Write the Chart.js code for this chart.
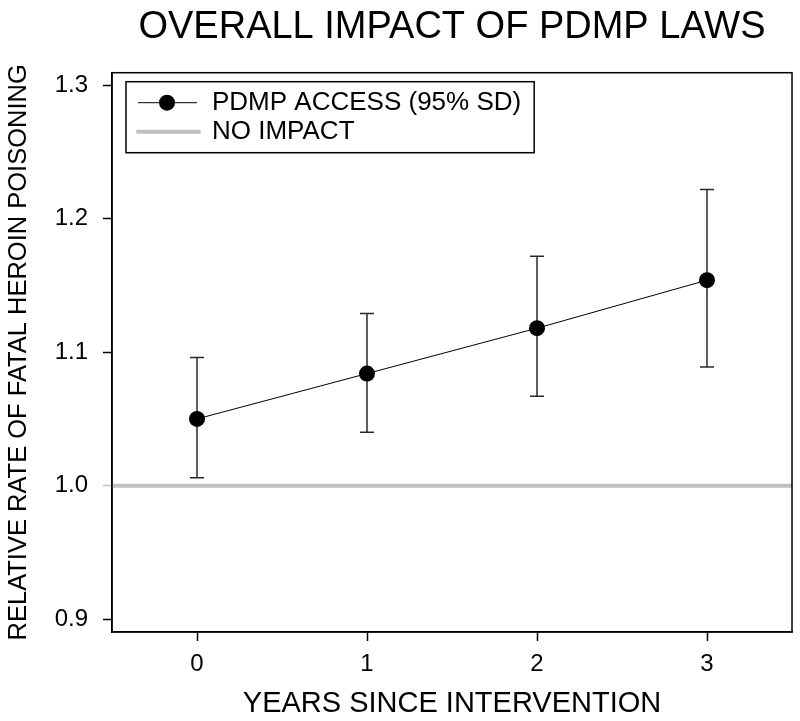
<!DOCTYPE html>
<html><head><meta charset="utf-8">
<script src="https://cdn.jsdelivr.net/npm/chart.js@4.4.1/dist/chart.umd.min.js"></script>
<style>html,body{margin:0;padding:0;background:#fff;} canvas{display:block;}</style>
</head><body>
<canvas id="c" width="800" height="721"></canvas>
<script>
const years = [0, 1, 2, 3];
const estimate = [1.050, 1.084, 1.118, 1.154];
const upperCI = [1.096, 1.129, 1.172, 1.222];
const lowerCI = [1.006, 1.040, 1.067, 1.089];
const noImpact = 1.0;
const yTicks = [0.9, 1.0, 1.1, 1.2, 1.3];
const xTicks = [0, 1, 2, 3];
const xRange = [-0.5, 3.5];
const yRange = [0.8903, 1.3095];
const chartTitle = 'OVERALL IMPACT OF PDMP LAWS';
const xTitle = 'YEARS SINCE INTERVENTION';
const yTitle = 'RELATIVE RATE OF FATAL HEROIN POISONING';
const seriesLabels = ['PDMP ACCESS (95% SD)', 'NO IMPACT'];

const FONT = "'Liberation Sans', Arial, sans-serif";

const frame = {
  id: 'frame',
  afterDraw(chart) {
    const {ctx, chartArea: a} = chart;
    ctx.save();
    ctx.strokeStyle = '#000';
    ctx.lineWidth = 1.5;
    ctx.strokeRect(a.left, a.top, a.right - a.left, a.bottom - a.top);
    ctx.restore();
  }
};

const errorBars = {
  id: 'errorBars',
  beforeDatasetsDraw(chart) {
    const {ctx, scales: {x, y}} = chart;
    ctx.save();
    ctx.strokeStyle = '#2a2a2a';
    ctx.lineWidth = 1.5;
    years.forEach((yr, i) => {
      const px = x.getPixelForValue(yr);
      const pt = y.getPixelForValue(upperCI[i]);
      const pb = y.getPixelForValue(lowerCI[i]);
      ctx.beginPath();
      ctx.moveTo(px, pt); ctx.lineTo(px, pb);
      ctx.moveTo(px - 7, pt); ctx.lineTo(px + 7, pt);
      ctx.moveTo(px - 7, pb); ctx.lineTo(px + 7, pb);
      ctx.stroke();
    });
    ctx.restore();
  }
};

const boxLegend = {
  id: 'boxLegend',
  afterDraw(chart) {
    const {ctx, chartArea: a} = chart;
    const ds = chart.data.datasets;
    const left = a.left + 14, top = a.top + 9, h = 71;
    ctx.save();
    ctx.font = '26px ' + FONT;
    const textX = left + 86;
    const w = Math.max(...ds.map(d => ctx.measureText(d.label).width));
    const right = textX + w + 13;
    ctx.fillStyle = '#fff';
    ctx.fillRect(left, top, right - left, h);
    ctx.strokeStyle = '#000';
    ctx.lineWidth = 1.5;
    ctx.strokeRect(left, top, right - left, h);
    const r1 = top + 21, r2 = top + 50;
    ctx.beginPath();
    ctx.strokeStyle = '#000'; ctx.lineWidth = 1;
    ctx.moveTo(left + 12, r1); ctx.lineTo(left + 71, r1); ctx.stroke();
    ctx.beginPath();
    ctx.fillStyle = '#000';
    ctx.arc(left + 41, r1, 8, 0, Math.PI * 2); ctx.fill();
    ctx.beginPath();
    ctx.strokeStyle = '#c0c0c0'; ctx.lineWidth = 4; ctx.lineCap = 'round';
    ctx.moveTo(left + 12, r2); ctx.lineTo(left + 73, r2); ctx.stroke();
    ctx.fillStyle = '#000';
    ctx.textBaseline = 'middle';
    ctx.textAlign = 'left';
    ctx.fillText(ds[0].label, textX, r1);
    ctx.fillText(ds[1].label, textX, r2);
    ctx.restore();
  }
};

new Chart(document.getElementById('c'), {
  type: 'scatter',
  data: {
    datasets: [
      {
        label: seriesLabels[0],
        data: years.map((x, i) => ({x, y: estimate[i]})),
        showLine: true,
        borderColor: '#000',
        borderWidth: 1,
        pointRadius: 8,
        pointHoverRadius: 8,
        pointBackgroundColor: '#000',
        pointBorderWidth: 0
      },
      {
        label: seriesLabels[1],
        data: xRange.map(x => ({x, y: noImpact})),
        showLine: true,
        borderColor: '#c0c0c0',
        borderWidth: 4,
        pointRadius: 0
      }
    ]
  },
  options: {
    responsive: false,
    animation: false,
    devicePixelRatio: 1,
    layout: {padding: {left: 0, right: 8, top: 0, bottom: 0}},
    plugins: {
      legend: {display: false},
      tooltip: {enabled: false},
      title: {
        display: true,
        fullSize: false,
        text: chartTitle,
        color: '#000',
        font: {family: FONT, size: 38, weight: 'normal', lineHeight: 1.2},
        padding: {top: 5, bottom: 22.1}
      }
    },
    scales: {
      x: {
        type: 'linear',
        min: xRange[0], max: xRange[1],
        afterBuildTicks: s => { s.ticks = xTicks.map(v => ({value: v})); },
        afterFit: s => { s.height = 89; },
        ticks: {color: '#000', font: {family: FONT, size: 24}, padding: 9, callback: v => String(v)},
        grid: {display: true, drawOnChartArea: false, drawTicks: true, tickLength: 9, tickColor: '#000', tickWidth: 1.5},
        border: {display: true, color: '#000', width: 1.5},
        title: {display: true, text: xTitle, color: '#000', font: {family: FONT, size: 29, lineHeight: 1.2}, padding: {top: 0, bottom: 0}}
      },
      y: {
        type: 'linear',
        min: yRange[0], max: yRange[1],
        afterBuildTicks: s => { s.ticks = yTicks.map(v => ({value: v})); },
        afterFit: s => { s.width = 112; },
        ticks: {color: '#000', font: {family: FONT, size: 24}, padding: 15, callback: v => v.toFixed(1)},
        grid: {display: true, drawOnChartArea: false, drawTicks: true, tickLength: 9,
               tickColor: c => (c.tick && c.tick.value === noImpact) ? '#c0c0c0' : '#000', tickWidth: 1.5},
        border: {display: true, color: '#000', width: 1.5},
        title: {display: true, text: yTitle, color: '#000', font: {family: FONT, size: 25.5, lineHeight: 1.2}, padding: {top: 4, bottom: 0}}
      }
    }
  },
  plugins: [errorBars, frame, boxLegend]
});
</script>
</body></html>
